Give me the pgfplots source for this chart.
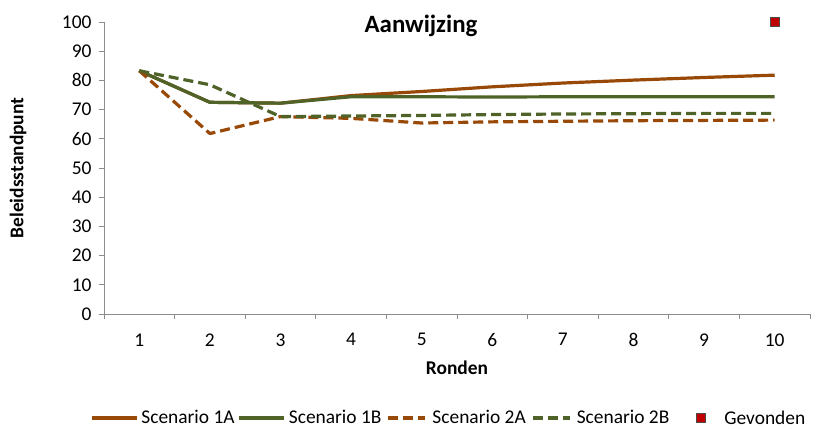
\documentclass[border=0pt]{standalone}
\usepackage{fontspec}
\setmainfont{Carlito}
\usepackage{pgfplots}
\pgfplotsset{compat=1.18}
\definecolor{roest}{HTML}{984807}
\definecolor{olijf}{HTML}{4F6228}
\definecolor{asgrijs}{HTML}{8C8C8C}
\definecolor{rood}{HTML}{C00000}

\pgfplotsset{
  lijnlegenda/.style={legend image code/.code={\draw[##1] (0bp,0bp) -- (45bp,0bp);}},
  streeplegenda/.style={legend image code/.code={\path[draw=none] (0bp,0bp) -- (45bp,0bp); \draw[##1] (4bp,0bp) -- (41bp,0bp);}},
  bloklegenda/.style={legend image code/.code={\path[draw=none] (0bp,0bp) -- (45bp,0bp);
    \draw[solid, fill=rood, draw=black!70, line width=0.8bp] (24bp,-4.5bp) rectangle (33bp,4.5bp);}},
}

\begin{document}
\begin{tikzpicture}[x=1bp,y=1bp]
\path[use as bounding box] (0,0) rectangle (824,428);
\begin{axis}[
  at={(104bp,114bp)}, anchor=south west,
  scale only axis, width=706bp, height=292bp,
  xmin=0.5, xmax=10.5, ymin=0, ymax=100,
  xtick={1,...,10}, minor xtick={0.5,1.5,...,10.5},
  ytick={0,10,...,100},
  major x tick style={draw=none},
  tick style={asgrijs, line width=0.8bp},
  major tick length=5bp, minor tick length=5bp,
  tick align=outside, tick pos=left,
  axis x line*=bottom, axis y line*=left,
  axis line style={asgrijs, line width=0.8bp, -},
  /pgf/number format/assume math mode=true,
  ticklabel style={font=\fontsize{19.5}{22}\selectfont, black},
  xticklabel style={yshift=-11bp},
  yticklabel style={xshift=-4bp},
  xlabel={\textbf{Ronden}}, ylabel={\textbf{Beleidsstandpunt}},
  label style={font=\fontsize{19.5}{22}\selectfont},
  xlabel style={at={(axis description cs:0.5,0)}, yshift=-54bp, anchor=center, inner sep=0pt},
  ylabel style={at={(axis description cs:0,0.5)}, yshift=86bp, anchor=center, inner sep=0pt},
  clip=false,
  legend columns=5,
  legend style={draw=none, fill=none, font=\fontsize{19.5}{22}\selectfont,
    at={(-14bp,-104bp)}, anchor=west, inner sep=0pt,
    nodes={inner xsep=3bp, inner ysep=0pt},
    /tikz/every even column/.append style={column sep=0pt},
    /tikz/every odd column/.append style={column sep=0pt}},
  legend cell align=left,
  lijnlegenda,
]
% Scenario 1A
\addplot[roest, line width=3.2bp, line join=round] coordinates {
  (1,83.3) (2,72.5) (3,72.2) (4,74.8) (5,76.2) (6,77.8) (7,79.1) (8,80.1) (9,81.0) (10,81.8)};
\addlegendentry{Scenario 1A}
% Scenario 1B
\addplot[olijf, line width=3.2bp, line join=round] coordinates {
  (1,83.3) (2,72.5) (3,72.2) (4,74.4) (5,74.4) (6,74.3) (7,74.4) (8,74.4) (9,74.4) (10,74.4)};
\addlegendentry{Scenario 1B}
% Scenario 2A
\addplot[roest, line width=3.2bp, dash pattern=on 10bp off 5bp, line join=round, streeplegenda]
  coordinates {
  (1,83.3) (2,61.8) (3,67.6) (4,67.0) (5,65.4) (6,65.8) (7,66.0) (8,66.2) (9,66.3) (10,66.4)};
\addlegendentry{Scenario 2A}
% Scenario 2B
\addplot[olijf, line width=3.2bp, dash pattern=on 10bp off 5bp, line join=round, streeplegenda]
  coordinates {
  (1,83.3) (2,78.5) (3,67.6) (4,67.8) (5,68.0) (6,68.3) (7,68.5) (8,68.6) (9,68.7) (10,68.7)};
\addlegendentry{Scenario 2B}
% Gevonden
\addplot[only marks, mark=square*, mark size=4.5bp,
  mark options={fill=rood, draw=black!70, line width=0.8bp}, bloklegenda]
  coordinates {(10,100)};
\addlegendentry{\hspace{4bp}Gevonden}
\end{axis}
\node[font=\fontsize{25}{28}\selectfont\bfseries] at (421,402) {Aanwijzing};
\end{tikzpicture}
\end{document}
